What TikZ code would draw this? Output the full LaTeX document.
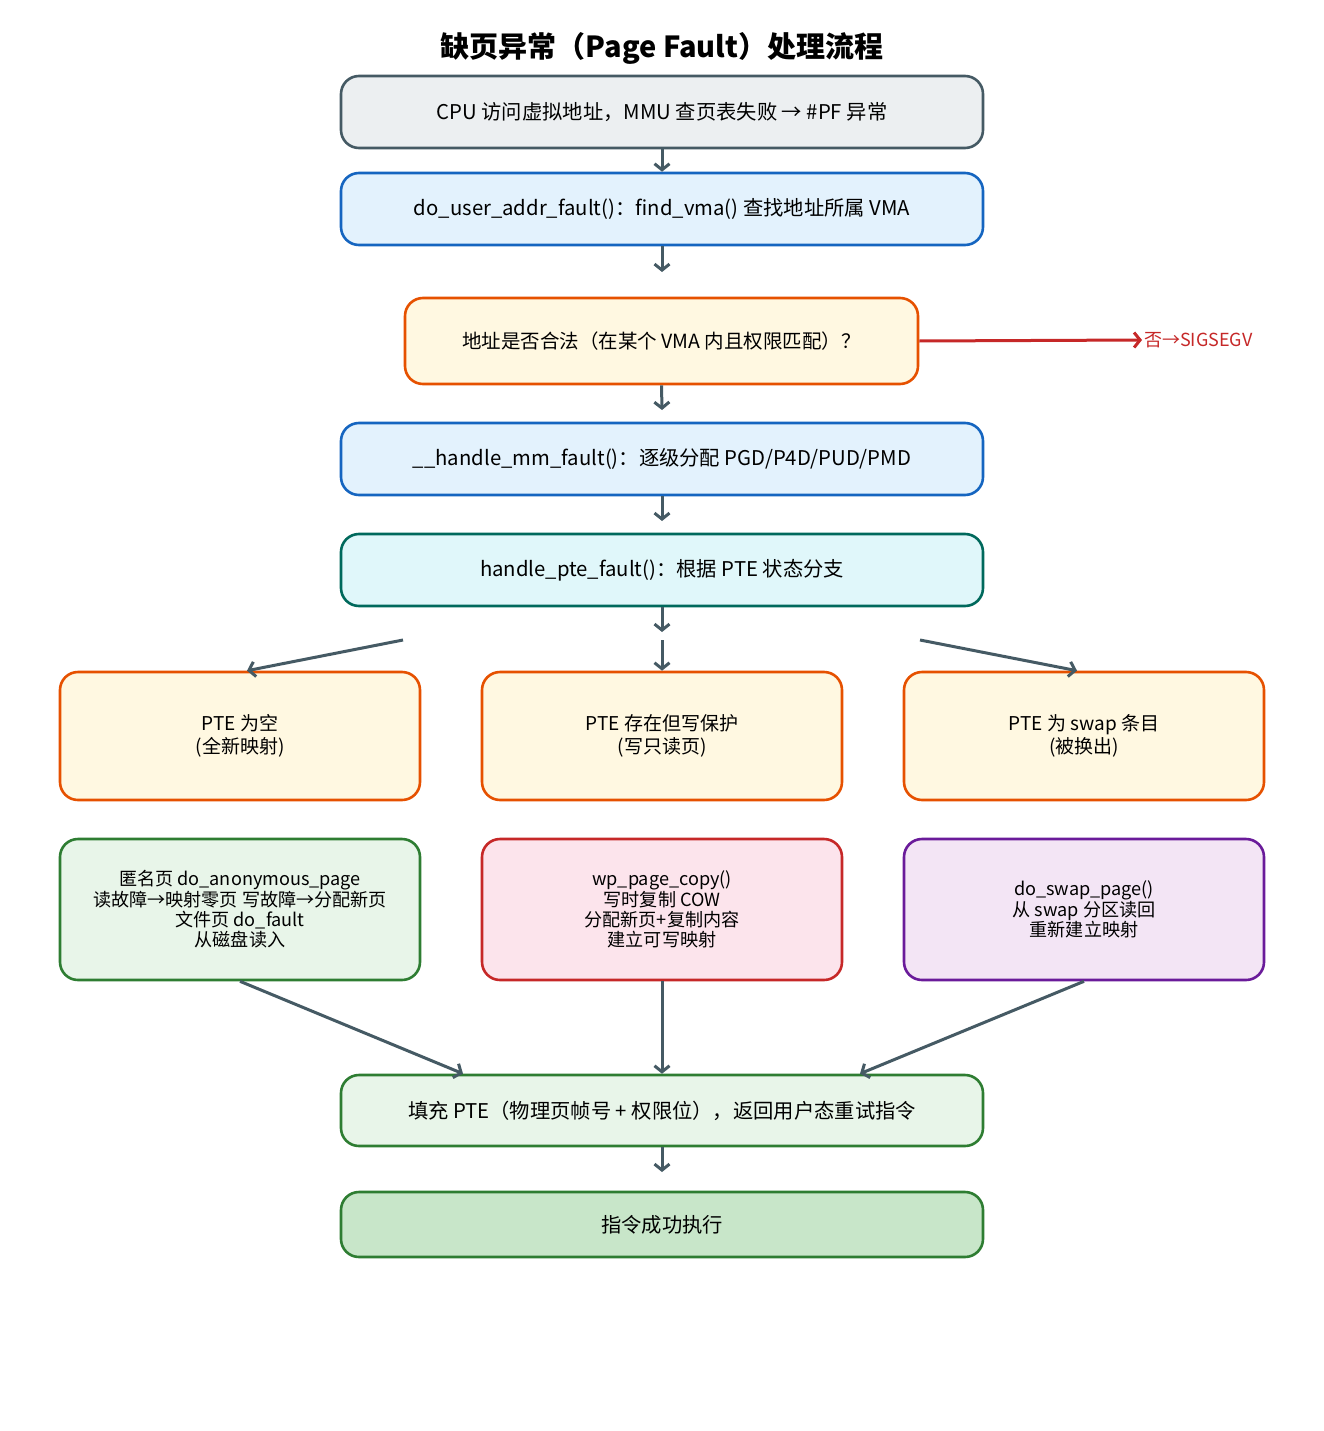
\documentclass[tikz,border=0pt]{standalone}
\usepackage{fontspec}
\setmainfont{Noto Sans CJK SC}
\usetikzlibrary{arrows.meta}
\definecolor{arrowc}{HTML}{455A64}
\definecolor{grayfill}{HTML}{ECEFF1}
\definecolor{grayline}{HTML}{455A64}
\definecolor{bluefill}{HTML}{E3F2FD}
\definecolor{blueline}{HTML}{1565C0}
\definecolor{orfill}{HTML}{FFF8E1}
\definecolor{orline}{HTML}{E65100}
\definecolor{cyfill}{HTML}{E0F7FA}
\definecolor{cyline}{HTML}{00695C}
\definecolor{grfill}{HTML}{E8F5E9}
\definecolor{grline}{HTML}{2E7D32}
\definecolor{grfill2}{HTML}{C8E6C9}
\definecolor{pkfill}{HTML}{FCE4EC}
\definecolor{redline}{HTML}{C62828}
\definecolor{pufill}{HTML}{F3E5F5}
\definecolor{puline}{HTML}{6A1B9A}
\begin{document}
\begin{tikzpicture}[x=1pt,y=-1pt,
  box/.style={draw, rounded corners=18pt, line width=2.6pt, inner sep=0pt, align=center},
  wide/.style={box, minimum width=642pt, minimum height=72pt, font=\fontsize{20.3}{24}\selectfont},
  pte/.style={box, minimum width=360pt, minimum height=128pt, font=\fontsize{19}{22.5}\selectfont, draw=orline, fill=orfill},
  act/.style={box, minimum width=360pt, minimum height=141pt, font=\fontsize{18.1}{20.3}\selectfont},
  conn/.style={draw=arrowc, line width=3pt, -{Straight Barb[length=6pt,width=15pt,line width=3pt]}}]
\useasboundingbox[fill=white] (0,0) rectangle (1323,1431);

\node[font=\fontsize{29}{33}\selectfont\bfseries] (title) at (662,48) {缺页异常（Page Fault）处理流程};

\node[wide, draw=grayline, fill=grayfill] (b1) at (662,112) {CPU 访问虚拟地址，MMU 查页表失败 → \#PF 异常};
\node[wide, draw=blueline, fill=bluefill] (b2) at (662,209) {do\_user\_addr\_fault()：find\_vma() 查找地址所属 VMA};
\node[box, minimum width=513pt, minimum height=86pt, draw=orline, fill=orfill, font=\fontsize{19.5}{23}\selectfont] (b3) at (661.5,341) {地址是否合法（在某个 VMA 内且权限匹配）？};
\node[wide, draw=blueline, fill=bluefill] (b4) at (662,459) {\_\_handle\_mm\_fault()：逐级分配 PGD/P4D/PUD/PMD};
\node[wide, draw=cyline, fill=cyfill] (b5) at (662,570) {handle\_pte\_fault()：根据 PTE 状态分支};

\node[pte] (p1) at (240,736) {PTE 为空\\(全新映射)};
\node[pte] (p2) at (662,736) {PTE 存在但写保护\\(写只读页)};
\node[pte] (p3) at (1084,736) {PTE 为 swap 条目\\(被换出)};

\node[act, draw=grline, fill=grfill] (a1) at (240,909.5) {匿名页 do\_anonymous\_page\\读故障→映射零页 写故障→分配新页\\文件页 do\_fault\\从磁盘读入};
\node[act, draw=redline, fill=pkfill] (a2) at (662,909.5) {wp\_page\_copy()\\写时复制 COW\\分配新页+复制内容\\建立可写映射};
\node[act, draw=puline, fill=pufill] (a3) at (1084,909.5) {do\_swap\_page()\\从 swap 分区读回\\重新建立映射};

\node[wide, draw=grline, fill=grfill, minimum height=71pt] (f1) at (662,1110.5) {填充 PTE（物理页帧号 + 权限位），返回用户态重试指令};
\node[wide, draw=grline, fill=grfill2, minimum height=65pt] (f2) at (662,1224.5) {指令成功执行};

\node[anchor=west, text=redline, font=\fontsize{18}{21}\selectfont, inner sep=0pt] (sig) at (1144,340) {否→SIGSEGV};

\coordinate (c2) at (662,272);
\coordinate (c3) at (662,410);
\coordinate (c4) at (662,521);
\coordinate (c5) at (662,632);
\coordinate (c6) at (662,1172);
\coordinate (s1) at (403,640);
\coordinate (s2) at (662,640);
\coordinate (s3) at (920,640);

\draw[conn] (b1.south) -- (b2.north);
\draw[conn] (b2.south) -- (c2);
\draw[conn, draw=redline] (b3.east) -- ([xshift=-2pt]sig.west);
\draw[conn] (b3.south) -- (c3);
\draw[conn] (b4.south) -- (c4);
\draw[conn] (b5.south) -- (c5);
\draw[conn] (s1) -- ([xshift=7pt]p1.north);
\draw[conn] (s2) -- (p2.north);
\draw[conn] (s3) -- ([xshift=-7pt]p3.north);

\draw[conn] (a1.south) -- ([xshift=-199pt]f1.north);
\draw[conn] (a2.south) -- (f1.north);
\draw[conn] (a3.south) -- ([xshift=198pt]f1.north);
\draw[conn] (f1.south) -- (c6);
\end{tikzpicture}
\end{document}
